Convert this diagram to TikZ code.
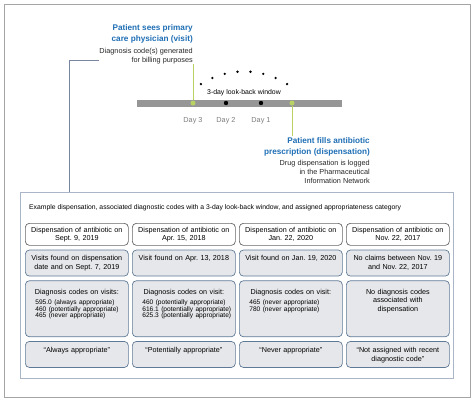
\documentclass[tikz,border=0pt]{standalone}
\usepackage{fontspec}
\setmainfont{Liberation Sans}
\usepackage{tikz}
\usetikzlibrary{positioning}
\usetikzlibrary{calc}

\definecolor{visitblue}{RGB}{30,110,180}
\definecolor{daygreen}{RGB}{185,210,100}
\definecolor{bargray}{RGB}{150,150,150}
\definecolor{daygray}{RGB}{125,125,125}
\definecolor{framegray}{RGB}{165,165,165}
\definecolor{examplegray}{RGB}{170,182,200}
\definecolor{linkblue}{RGB}{120,135,160}
\definecolor{cellblue}{RGB}{95,122,150}
\definecolor{cellfill}{RGB}{230,231,234}

\newcommand{\cellfont}{\fontsize{7.2}{8.6}\selectfont}
\newcommand{\codefont}{\fontsize{6.6}{6.4}\selectfont}
\newcommand{\codelist}[1]{\\[2pt]\hspace*{8pt}\parbox[t]{91pt}{\raggedright\codefont #1}}

\begin{document}
\begin{tikzpicture}[x=1pt,y=-1pt]
\tikzstyle{title}=[font=\fontsize{8.2}{10.8}\selectfont\bfseries, text=visitblue, align=right, inner sep=0pt]
\tikzstyle{note}=[font=\fontsize{7.3}{9}\selectfont, text=black!85, align=right, inner sep=0pt]
\tikzstyle{daylabel}=[font=\fontsize{7.3}{9}\selectfont, text=daygray, inner sep=0pt, anchor=base]
\tikzstyle{greendot}=[circle, fill=daygreen, minimum size=5pt, inner sep=0pt]
\tikzstyle{blackdot}=[circle, fill=black, minimum size=4.4pt, inner sep=0pt]
\tikzstyle{tick}=[daygreen, line width=1pt]
\tikzstyle{link}=[linkblue, line width=0.8pt]
\tikzstyle{cell}=[draw=cellblue, fill=cellfill, line width=0.7pt, rounded corners=4pt, text width=99pt, align=center, inner xsep=2pt, inner ysep=0pt, font=\cellfont, node distance=4pt and 3.3pt]
\tikzstyle{datecell}=[cell, draw=black!60, fill=white, text height=9pt, text depth=13pt]
\tikzstyle{visitcell}=[cell, text height=10.5pt, text depth=15.5pt]
\tikzstyle{codecell}=[cell, text height=13.5pt, text depth=42.5pt]
\tikzstyle{catcell}=[cell, text height=11.5pt, text depth=14.5pt]

\useasboundingbox (0,0) rectangle (474,402);
\draw[framegray, line width=1pt] (4,4) rectangle (470,397);

% time line (base = last line of each text)
\node[title, anchor=base east] (visit) at (193,41) {Patient sees primary\\care physician (visit)};
\node[note, anchor=base east] (visitnote) at (193,62.5) {Diagnosis code(s) generated\\for billing purposes};
\draw[bargray, line width=7pt] (137,103) -- (342,103);
\foreach \a in {0,...,7}
  \fill ({244+80.2*cos(-122.5+\a*65/7)},{151.7+80.2*sin(-122.5+\a*65/7)}) circle (1.3pt);
\node[font=\fontsize{6.9}{8}\selectfont, inner sep=0pt, anchor=base] (window) at (244,94.5) {3-day look-back window};
\node[greendot] (day3) at (193,103) {};
\node[blackdot] (day2) at (226,103) {};
\node[blackdot] (day1) at (261,103) {};
\node[greendot] (day0) at (292,103) {};
\node[daylabel] (day3txt) at (193,122.5) {Day 3};
\node[daylabel] (day2txt) at (226,122.5) {Day 2};
\node[daylabel] (day1txt) at (261,122.5) {Day 1};
\node[title, anchor=base east] (disp) at (370,154.5) {Patient fills antibiotic\\prescription (dispensation)};
\node[note, anchor=base east] (dispnote) at (370,183.5) {Drug dispensation is logged\\in the Pharmaceutical\\Information Network};
\draw[tick] (day3 |- visitnote.south) -- (day3);
\draw[tick] (day0) -- ($(day0 |- disp.north)+(0,-2)$);

% examples
\node[draw=examplegray, line width=0.9pt, minimum width=433pt, minimum height=186pt, inner sep=0pt, anchor=north west] (example) at (20,192) {};
\node[font=\fontsize{6.8}{8}\selectfont, inner sep=0pt, anchor=base west] (extitle) at (29,209.5) {Example dispensation, associated diagnostic codes with a 3-day look-back window, and assigned appropriateness category};
\coordinate (bend) at (69,60);
\draw[link] (visitnote.west |- bend) -- (bend) -- (bend |- example.north);

\node[datecell, anchor=north west] (date1) at (25,223) {Dispensation of antibiotic on\\Sept.\ 9, 2019};
\node[datecell, right=of date1] (date2) {Dispensation of antibiotic on\\Apr.\ 15, 2018};
\node[datecell, right=of date2] (date3) {Dispensation of antibiotic on\\Jan.\ 22, 2020};
\node[datecell, right=of date3] (date4) {Dispensation of antibiotic on\\Nov.\ 22, 2017};

\node[visitcell, below=of date1] (found1) {Visits found on dispensation\\date and on Sept.\ 7, 2019};
\node[visitcell, below=of date2] (found2) {Visit found on Apr.\ 13, 2018};
\node[visitcell, below=of date3] (found3) {Visit found on Jan.\ 19, 2020};
\node[visitcell, below=of date4] (found4) {No claims between Nov.\ 19\\and Nov.\ 22, 2017};

\node[codecell, below=of found1] (codes1) {Diagnosis codes on visits:\codelist{595.0 (always appropriate)\\460 (potentially appropriate)\\465 (never appropriate)}};
\node[codecell, below=of found2] (codes2) {Diagnosis codes on visit:\codelist{460 (potentially appropriate)\\616.1 (potentially appropriate)\\625.3 (potentially appropriate)}};
\node[codecell, below=of found3] (codes3) {Diagnosis codes on visit:\codelist{465 (never appropriate)\\780 (never appropriate)}};
\node[codecell, below=of found4] (codes4) {No diagnosis codes\\associated with\\dispensation};

\node[catcell, below=of codes1] (cat1) {“Always appropriate”};
\node[catcell, below=of codes2] (cat2) {“Potentially appropriate”};
\node[catcell, below=of codes3] (cat3) {“Never appropriate”};
\node[catcell, below=of codes4] (cat4) {“Not assigned with recent\\diagnostic code”};
\end{tikzpicture}
\end{document}
